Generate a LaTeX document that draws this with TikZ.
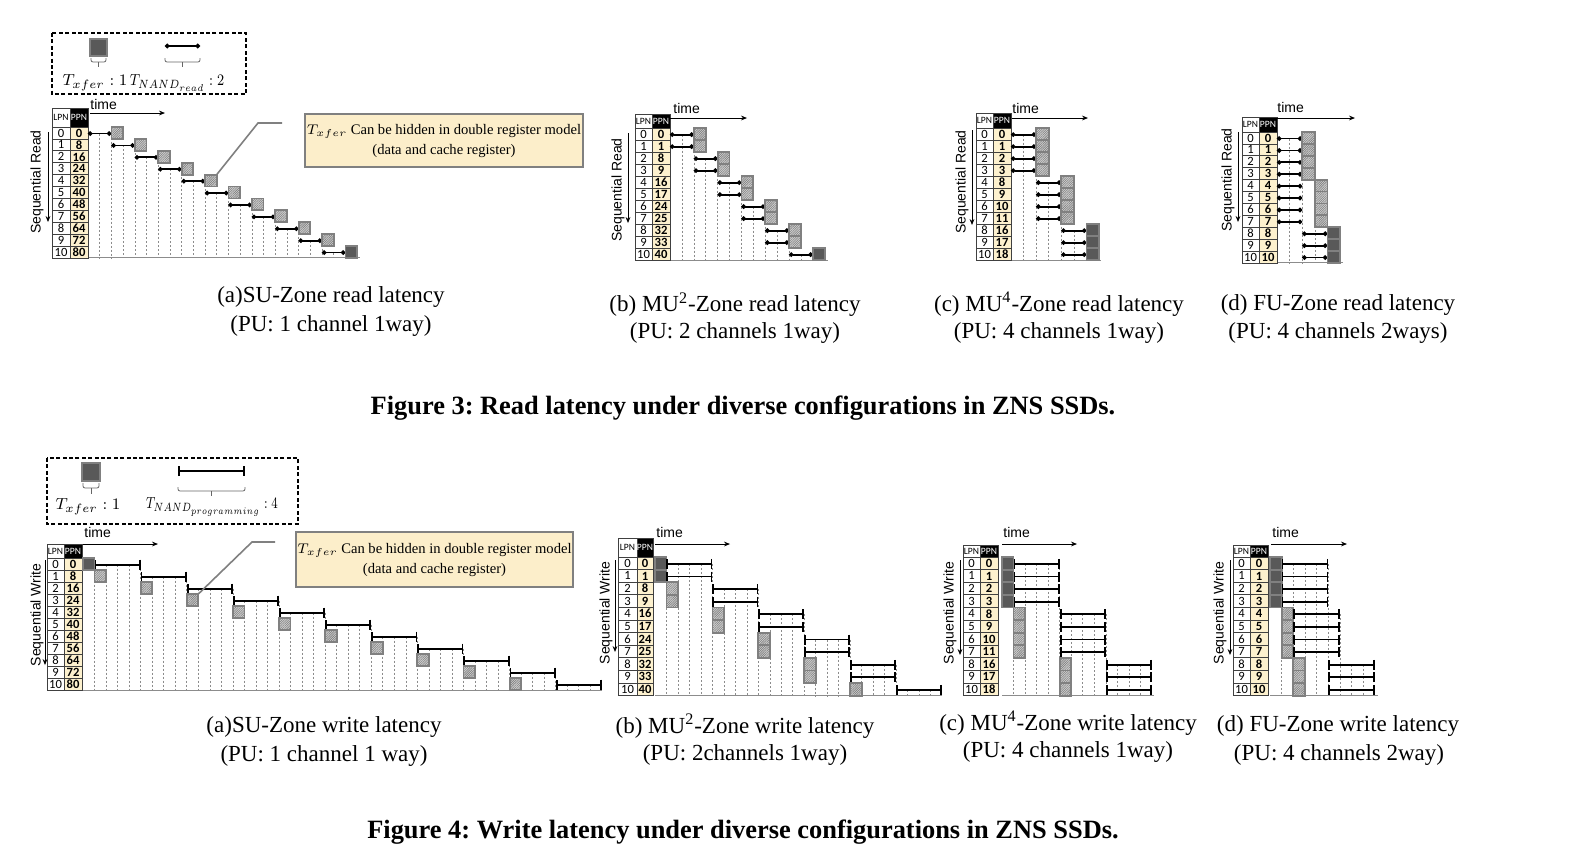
\documentclass[tikz,border=0pt]{standalone}
\usepackage{fontspec}
\usepackage{graphicx}
\setmainfont{Liberation Serif}
\newfontfamily\tabf{Carlito}
\newfontfamily\sansf{Liberation Sans}
\usetikzlibrary{arrows.meta,patterns.meta}
\definecolor{ppncol}{RGB}{253,241,206}
\definecolor{callcol}{RGB}{252,238,202}
\tikzset{
  tabline/.style={draw=black!75, line width=0.35pt},
  lpnnum/.style={font=\tabf\fontsize{6.3}{6.3}\selectfont, inner sep=0pt},
  ppnnum/.style={font=\tabf\bfseries\fontsize{6.3}{6.3}\selectfont, inner sep=0pt},
  hdr/.style={font=\tabf\fontsize{4.8}{4.8}\selectfont, inner sep=0pt},
  gridl/.style={draw=black!45, dash pattern=on 1pt off 1pt, line width=0.3pt},
  axisl/.style={draw=black!45, line width=0.5pt},
  rbar/.style={line width=0.9pt, {Circle[length=2.2pt]}-{Circle[length=2.2pt]}},
  wbar/.style={line width=0.9pt, {Bar[width=5pt]}-{Bar[width=5pt]}},
  xsq/.style={draw=black!50, line width=0.9pt, preaction={fill=black!18}, pattern={Lines[angle=45,distance=0.8pt,line width=0.3pt]}, pattern color=black!50},
  dsq/.style={draw=black!50, line width=0.9pt, fill=black!65},
  timelbl/.style={font=\sansf\fontsize{7}{8}\selectfont, anchor=west, inner sep=0pt},
  seqlbl/.style={font=\sansf\fontsize{7}{8}\selectfont, rotate=90, inner sep=0pt},
  tarrow/.style={-{Stealth[length=3pt,width=2.4pt]}, line width=0.45pt},
  capt/.style={font=\fontsize{11.5}{13}\selectfont, inner sep=0pt},
  figcapt/.style={font=\frenchspacing\bfseries\fontsize{13.2}{15}\selectfont, inner sep=0pt},
  callout/.style={draw=black!50, line width=0.8pt, fill=callcol, align=center, font=\fontsize{7.3}{10}\selectfont, inner sep=0pt},
  leader/.style={draw=black!50, line width=0.8pt},
  legbox/.style={draw=black, line width=0.7pt, dash pattern=on 2pt off 1.2pt},
  legtxt/.style={font=\fontsize{8.2}{10}\selectfont, inner sep=0pt},
  brace/.style={draw=black!60, line width=0.4pt, rounded corners=1pt},
}
\newcommand{\ztable}[8]{%
  \fill[ppncol] (#2,#5) rectangle (#3,{#5+11*#6});
  \fill[black] (#2,#4) rectangle (#3,#5);
  \foreach \zj in {0,...,10} \draw[tabline] (#1,{#5+\zj*#6}) -- (#3,{#5+\zj*#6});
  \draw[tabline] (#1,#4) rectangle (#3,{#5+11*#6});
  \draw[tabline] (#2,#4) -- (#2,{#5+11*#6});
  \node[hdr] (#8-lh) at ({(#1+#2)/2},{(#4+#5)/2}) {LPN};
  \node[hdr,text=white] (#8-ph) at ({(#2+#3)/2},{(#4+#5)/2}) {PPN};
  \foreach \zp [count=\zi from 0] in {#7} {
    \node[lpnnum] (#8-l\zi) at ({(#1+#2)/2},{#5+(\zi+0.5)*#6}) {\zi};
    \node[ppnnum] (#8-p\zi) at ({(#2+#3)/2},{#5+(\zi+0.5)*#6}) {\zp};
  }
}
\newcommand{\zgrid}[2]{\draw[gridl] ({\X+(#1)*\U},{\T+(#2+0.55)*\R}) -- ({\X+(#1)*\U},{\T+11*\R});}
\newcommand{\zrbar}[3]{\draw[rbar] ({\X+(#2)*\U},{\T+(#1+0.55)*\R}) -- ({\X+(#3)*\U},{\T+(#1+0.55)*\R});}
\newcommand{\zwbar}[3]{\draw[wbar] ({\X+(#2)*\U},{\T+(#1+0.55)*\R}) -- ({\X+(#3)*\U},{\T+(#1+0.55)*\R});}
\newcommand{\zsq}[3]{\draw[#3] ({\X+(#2)*\U},{\T+(#1)*\R}) rectangle ({\X+(#2+1)*\U},{\T+(#1+1)*\R});}
\newcommand{\zaxis}[1]{\draw[axisl] (\X,{\T+11*\R}) -- ({\X+#1},{\T+11*\R});}
\begin{document}
\begin{tikzpicture}[x=0.5pt,y=-0.5pt]
\useasboundingbox (0,0) rectangle (1583,859);
\fill[white] (0,0) rectangle (1583,859);

% ================= Figure 3 (read) =================
\draw[legbox] (52,33) rectangle (246,94);
\draw[dsq] (90,39) rectangle (107,56);
\draw[brace] (91,58) -- (91,62) -- (106,62) -- (106,58);
\draw[brace] (98.5,62) -- (98.5,67);
\draw[rbar] (165,46) -- (200,46);
\draw[brace] (165,58) -- (165,62) -- (200,62) -- (200,58);
\draw[brace] (182.5,62) -- (182.5,67);
\node[legtxt] (rleg1) at (95,83) {$T_{xfer}:1$};
\node[legtxt] (rleg2) at (177,83) {\scalebox{0.84}[1]{$T_{NAND_{read}}:2$}};

% (a) SU read
\begin{scope}
\def\X{88}\def\U{11.7}\def\T{127}\def\R{11.9}
\zaxis{272}
\foreach \k in {1,...,21} {\pgfmathtruncatemacro\zr{ceil(\k/2)-1}\zgrid{\k}{\zr}}
\ztable{52}{70}{88}{108}{127}{11.9}{0,8,16,24,32,40,48,56,64,72,80}{ra}
\foreach \i in {0,...,9} {\zrbar{\i}{2*\i}{2*\i+2}\zsq{\i}{2*\i+2}{xsq}}
\zrbar{10}{20}{22}\zsq{10}{22}{dsq}
\node[timelbl] (ra-time) at (90,104) {time};
\draw[tarrow] (90,113) -- (165,113);
\node[seqlbl] (ra-seq) at (37,182) {Sequential Read};
\draw[tarrow] (48,132) -- (48,222);
\coordinate (ra-c1) at ({\X+11*\U},{\T+4*\R});
\coordinate (ra-c2) at (258,123);
\coordinate (ra-c3) at (282,123);
\draw[leader] (ra-c1) -- (ra-c2) -- (ra-c3);
\end{scope}
\node[callout, minimum width=139pt, minimum height=26.5pt] (ra-call) at (444,140.5)
  {$T_{xfer}$ Can be hidden in double register model\\(data and cache register)};

% (b) MU2 read
\begin{scope}
\def\X{670}\def\U{11.9}\def\T{128}\def\R{12}
\zaxis{158}
\foreach \k in {1,...,11} {\pgfmathtruncatemacro\zr{2*(ceil(\k/2)-1)}\zgrid{\k}{\zr}}
\ztable{635}{652}{670}{114}{128}{12}{0,1,8,9,16,17,24,25,32,33,40}{rb}
\foreach \i in {0,...,9} {\pgfmathtruncatemacro\zq{floor(\i/2)}\zrbar{\i}{2*\zq}{2*\zq+2}\zsq{\i}{2*\zq+2}{xsq}}
\zrbar{10}{10}{12}\zsq{10}{12}{dsq}
\node[timelbl] (rb-time) at (673,108) {time};
\draw[tarrow] (670,118) -- (747,118);
\node[seqlbl] (rb-seq) at (618,190) {Sequential Read};
\draw[tarrow] (628,133) -- (628,223);
\end{scope}

% (c) MU4 read
\begin{scope}
\def\X{1011}\def\U{12.57}\def\T{128}\def\R{12}
\zaxis{90}
\foreach \k in {1,...,5} {\pgfmathtruncatemacro\zr{4*(ceil(\k/2)-1)}\zgrid{\k}{\zr}}
\ztable{976}{993}{1011}{113}{128}{12}{0,1,2,3,8,9,10,11,16,17,18}{rc}
\foreach \i in {0,...,7} {\pgfmathtruncatemacro\zq{floor(\i/4)}\zrbar{\i}{2*\zq}{2*\zq+2}\zsq{\i}{2*\zq+2}{xsq}}
\foreach \i in {8,9,10} {\zrbar{\i}{4}{6}\zsq{\i}{6}{dsq}}
\node[timelbl] (rc-time) at (1012,108) {time};
\draw[tarrow] (1012,118) -- (1088,118);
\node[seqlbl] (rc-seq) at (962,182) {Sequential Read};
\draw[tarrow] (972,130) -- (972,225);
\end{scope}

% (d) FU read
\begin{scope}
\def\X{1277}\def\U{12.6}\def\T{132}\def\R{11.9}
\zaxis{66}
\zgrid{1}{0}\zgrid{2}{0}\zgrid{3}{4}\zgrid{4}{8}
\ztable{1242}{1259}{1277}{117}{132}{11.9}{0,1,2,3,4,5,6,7,8,9,10}{rd}
\foreach \i in {0,...,3} {\zrbar{\i}{0}{2}\zsq{\i}{2}{xsq}}
\foreach \i in {4,...,7} {\zrbar{\i}{0}{2}\zsq{\i}{3}{xsq}}
\foreach \i in {8,9,10} {\zrbar{\i}{2}{4}\zsq{\i}{4}{dsq}}
\node[timelbl] (rd-time) at (1277,107) {time};
\draw[tarrow] (1277,118) -- (1355,118);
\node[seqlbl] (rd-seq) at (1228,180) {Sequential Read};
\draw[tarrow] (1238,132) -- (1238,222);
\end{scope}

% captions fig 3
\node[capt] (ca1) at (331,297) {(a)SU-Zone read latency};
\node[capt] (ca2) at (331,325.5) {(PU: 1 channel 1way)};
\node[capt] (cb1) at (735,304.5) {(b) MU\textsuperscript{2}-Zone read latency};
\node[capt] (cb2) at (735,333) {(PU: 2 channels 1way)};
\node[capt] (cc1) at (1059,304.5) {(c) MU\textsuperscript{4}-Zone read latency};
\node[capt] (cc2) at (1059,333) {(PU: 4 channels 1way)};
\node[capt] (cd1) at (1338,304.5) {(d) FU-Zone read latency};
\node[capt] (cd2) at (1338,333) {(PU: 4 channels 2ways)};
\node[figcapt] (fig3) at (743,408) {Figure 3: Read latency under diverse configurations in ZNS SSDs.};

% ================= Figure 4 (write) =================
\draw[legbox] (47,458) rectangle (298,524);
\draw[dsq] (82,463) rectangle (100,481);
\draw[brace] (83,483) -- (83,488) -- (99,488) -- (99,483);
\draw[brace] (91,488) -- (91,494);
\draw[wbar] (178,471) -- (245,471);
\draw[brace] (178,487) -- (178,491) -- (245,491) -- (245,487);
\draw[brace] (211.5,491) -- (211.5,496);
\node[legtxt] (wleg1) at (88,507) {$T_{xfer}:1$};
\node[legtxt] (wleg2) at (212,507) {\scalebox{0.76}[1]{$T_{NAND_{programming}}:4$}};

% (a) SU write
\begin{scope}
\def\X{83}\def\U{11.53}\def\T{558}\def\R{12}
\zaxis{519}
\foreach \k in {1,...,44} {\pgfmathtruncatemacro\zr{max(0,ceil((\k-5)/4))}\zgrid{\k}{\zr}}
\ztable{47}{64}{82}{544}{558}{12}{0,8,16,24,32,40,48,56,64,72,80}{wa}
\zsq{0}{0}{dsq}\zwbar{0}{1}{5}
\foreach \i in {1,...,10} {\zsq{\i}{4*\i-3}{xsq}\zwbar{\i}{4*\i+1}{4*\i+5}}
\node[timelbl] (wa-time) at (84,532) {time};
\draw[tarrow] (83,544) -- (158,544);
\node[seqlbl] (wa-seq) at (37,615) {Sequential Write};
\draw[tarrow] (45,560) -- (45,665);
\coordinate (wa-c1) at ({\X+10*\U},{\T+3*\R});
\coordinate (wa-c2) at (252,542);
\coordinate (wa-c3) at (275,542);
\draw[leader] (wa-c1) -- (wa-c2) -- (wa-c3);
\end{scope}
\node[callout, minimum width=138.5pt, minimum height=27.5pt] (wa-call) at (434.5,559.5)
  {$T_{xfer}$ Can be hidden in double register model\\(data and cache register)};

% (b) MU2 write
\begin{scope}
\def\X{655}\def\U{11.48}\def\T{557}\def\R{12.6}
\zaxis{287}
\foreach \k in {1,...,24} {\pgfmathtruncatemacro\zr{2*max(0,ceil((\k-5)/4))}\zgrid{\k}{\zr}}
\ztable{618}{637}{653}{538}{557}{12.6}{0,1,8,9,16,17,24,25,32,33,40}{wb}
\zsq{0}{0}{dsq}\zwbar{0}{1}{5}\zsq{1}{0}{dsq}\zwbar{1}{1}{5}
\foreach \i in {2,...,10} {\pgfmathtruncatemacro\zq{floor(\i/2)}\zsq{\i}{4*\zq-3}{xsq}\zwbar{\i}{4*\zq+1}{4*\zq+5}}
\node[timelbl] (wb-time) at (656,532) {time};
\draw[tarrow] (655,544) -- (730,544);
\node[seqlbl] (wb-seq) at (606,613) {Sequential Write};
\draw[tarrow] (615,560) -- (615,652);
\end{scope}

% (c) MU4 write
\begin{scope}
\def\X{1002}\def\U{11.54}\def\T{557}\def\R{12.6}
\zaxis{152}
\foreach \k in {1,...,12} {\pgfmathtruncatemacro\zr{4*max(0,ceil((\k-5)/4))}\zgrid{\k}{\zr}}
\ztable{963}{980}{998}{545}{557}{12.6}{0,1,2,3,8,9,10,11,16,17,18}{wc}
\foreach \i in {0,...,3} {\zsq{\i}{0}{dsq}\zwbar{\i}{1}{5}}
\foreach \i in {4,...,7} {\zsq{\i}{1}{xsq}\zwbar{\i}{5}{9}}
\foreach \i in {8,9,10} {\zsq{\i}{5}{xsq}\zwbar{\i}{9}{13}}
\node[timelbl] (wc-time) at (1003,532) {time};
\draw[tarrow] (1002,544) -- (1077,544);
\node[seqlbl] (wc-seq) at (950,613) {Sequential Write};
\draw[tarrow] (960,560) -- (960,655);
\end{scope}

% (d) FU write
\begin{scope}
\def\X{1270}\def\U{11.67}\def\T{557}\def\R{12.6}
\zaxis{108}
\zgrid{1}{0}\zgrid{2}{0}\zgrid{3}{0}\zgrid{4}{0}\zgrid{5}{0}\zgrid{6}{4}\zgrid{7}{8}\zgrid{8}{8}
\ztable{1233}{1250}{1268}{545}{557}{12.6}{0,1,2,3,4,5,6,7,8,9,10}{wd}
\foreach \i in {0,...,3} {\zsq{\i}{0}{dsq}\zwbar{\i}{1}{5}}
\foreach \i in {4,...,7} {\zsq{\i}{1}{xsq}\zwbar{\i}{2}{6}}
\foreach \i in {8,9,10} {\zsq{\i}{2}{xsq}\zwbar{\i}{5}{9}}
\node[timelbl] (wd-time) at (1272,532) {time};
\draw[tarrow] (1271,544) -- (1347,544);
\node[seqlbl] (wd-seq) at (1220,613) {Sequential Write};
\draw[tarrow] (1230,560) -- (1230,655);
\end{scope}

% captions fig 4
\node[capt] (wa1) at (324,727) {(a)SU-Zone write latency};
\node[capt] (wa2) at (324,755.5) {(PU: 1 channel 1 way)};
\node[capt] (wb1) at (745,726) {(b) MU\textsuperscript{2}-Zone write latency};
\node[capt] (wb2) at (745,754.5) {(PU: 2channels 1way)};
\node[capt] (wc1) at (1068,723.5) {(c) MU\textsuperscript{4}-Zone write latency};
\node[capt] (wc2) at (1068,752) {(PU: 4 channels 1way)};
\node[capt] (wd1) at (1338,726) {(d) FU-Zone write latency};
\node[capt] (wd2) at (1339,754.5) {(PU: 4 channels 2way)};
\node[figcapt] (fig4) at (743,832) {Figure 4: Write latency under diverse configurations in ZNS SSDs.};
\end{tikzpicture}
\end{document}
